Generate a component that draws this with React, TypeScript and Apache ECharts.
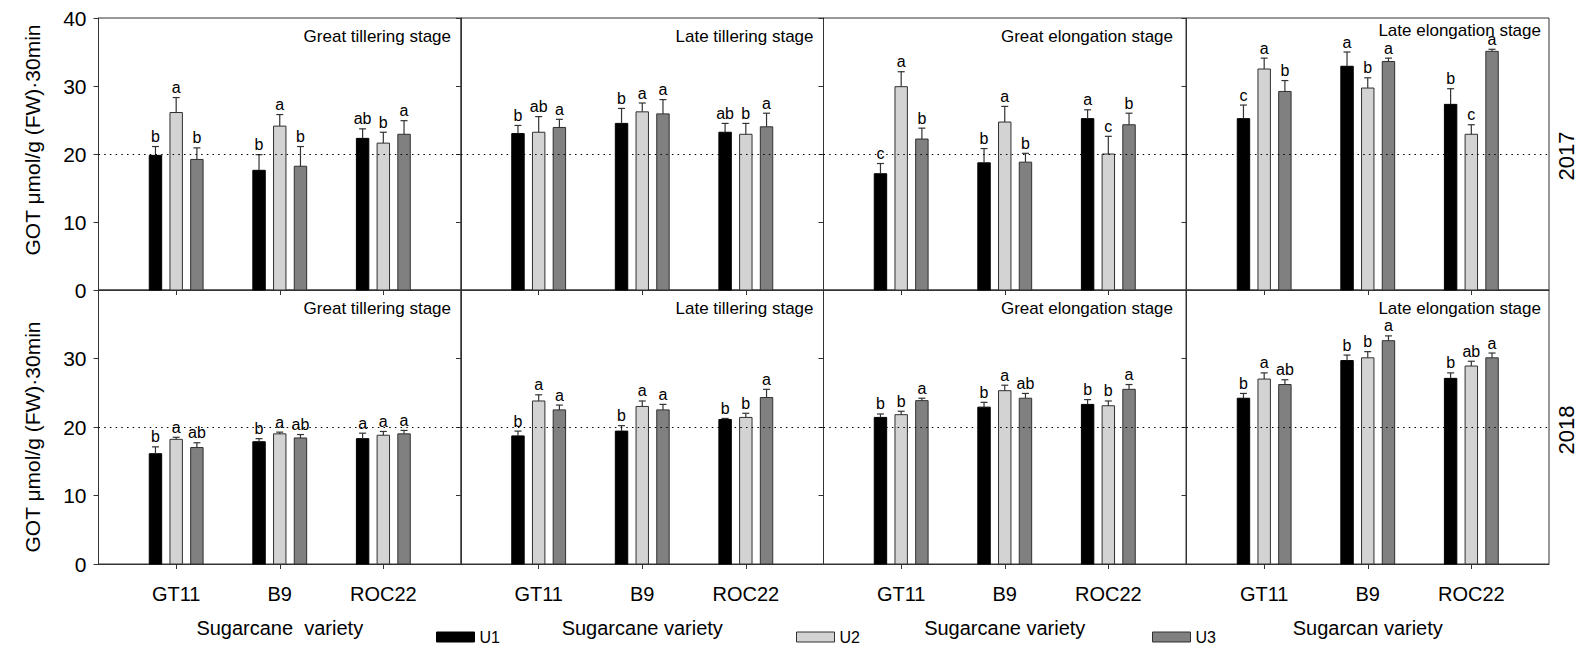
import React, { useEffect, useRef } from "react";
import * as echarts from "echarts";

// ---------- categories & labels ----------
const varieties = ["GT11", "B9", "ROC22"];
const treatments = ["U1", "U2", "U3"];
const stages = ["Great tillering stage", "Late tillering stage", "Great elongation stage", "Late elongation stage"];
const years = ["2017", "2018"];
const xAxisNames = ["Sugarcane  variety", "Sugarcane variety", "Sugarcane variety", "Sugarcan variety"];
const yAxisName = "GOT μmol/g (FW)·30min";

// ---------- data: rows = U1, U2, U3 ; columns = GT11, B9, ROC22 ----------
// 2017
const gts2017Mean = [[19.8, 17.6, 22.3], [26.1, 24.1, 21.6], [19.2, 18.2, 22.9]];
const gts2017Err = [[1.3, 2.3, 1.4], [2.2, 1.7, 1.6], [1.7, 2.9, 2.0]];
const gts2017Sig = [["b", "b", "ab"], ["a", "a", "b"], ["b", "b", "a"]];

const lts2017Mean = [[23.0, 24.5, 23.2], [23.2, 26.2, 22.9], [23.9, 25.9, 24.0]];
const lts2017Err = [[1.2, 2.2, 1.3], [2.3, 1.3, 1.6], [1.2, 2.1, 2.0]];
const lts2017Sig = [["b", "b", "ab"], ["ab", "a", "b"], ["a", "a", "a"]];

const ges2017Mean = [[17.1, 18.7, 25.2], [29.9, 24.7, 20.0], [22.2, 18.8, 24.3]];
const ges2017Err = [[1.5, 2.1, 1.3], [2.2, 2.3, 2.6], [1.6, 1.3, 1.7]];
const ges2017Sig = [["c", "b", "a"], ["a", "a", "c"], ["b", "b", "b"]];

const les2017Mean = [[25.2, 32.9, 27.3], [32.5, 29.7, 22.9], [29.2, 33.6, 35.1]];
const les2017Err = [[2.0, 2.1, 2.3], [1.6, 1.5, 1.4], [1.6, 0.5, 0.3]];
const les2017Sig = [["c", "a", "b"], ["a", "b", "c"], ["b", "a", "a"]];

// 2018
const gts2018Mean = [[16.1, 17.85, 18.3], [18.2, 19.0, 18.8], [17.0, 18.4, 19.0]];
const gts2018Err = [[1.0, 0.45, 0.8], [0.3, 0.25, 0.55], [0.7, 0.5, 0.5]];
const gts2018Sig = [["b", "b", "a"], ["a", "a", "a"], ["ab", "ab", "a"]];

const lts2018Mean = [[18.7, 19.4, 21.1], [23.8, 23.0, 21.4], [22.5, 22.5, 24.3]];
const lts2018Err = [[0.7, 0.8, 0.15], [0.9, 0.8, 0.6], [0.7, 0.8, 1.2]];
const lts2018Sig = [["b", "b", "b"], ["a", "a", "b"], ["a", "a", "a"]];

const ges2018Mean = [[21.4, 22.9, 23.3], [21.8, 25.3, 23.1], [23.85, 24.2, 25.5]];
const ges2018Err = [[0.5, 0.7, 0.7], [0.5, 0.8, 0.7], [0.35, 0.7, 0.7]];
const ges2018Sig = [["b", "b", "b"], ["b", "a", "b"], ["a", "ab", "a"]];

const les2018Mean = [[24.2, 29.7, 27.1], [27.0, 30.1, 28.9], [26.2, 32.6, 30.1]];
const les2018Err = [[0.7, 0.8, 0.8], [0.9, 0.9, 0.7], [0.7, 0.7, 0.7]];
const les2018Sig = [["b", "b", "b"], ["a", "b", "ab"], ["ab", "a", "a"]];

const refLine = 20;
const yMin = 0;
const yMax = 40;
const yInterval = 10;

const panelMeans = [gts2017Mean, lts2017Mean, ges2017Mean, les2017Mean, gts2018Mean, lts2018Mean, ges2018Mean, les2018Mean];
const panelErrs = [gts2017Err, lts2017Err, ges2017Err, les2017Err, gts2018Err, lts2018Err, ges2018Err, les2018Err];
const panelSigs = [gts2017Sig, lts2017Sig, ges2017Sig, les2017Sig, gts2018Sig, lts2018Sig, ges2018Sig, les2018Sig];

// ---------- styling / layout ----------
const FONT = "'Liberation Sans', Arial, Helvetica, sans-serif";
const fills = ["#000000", "#d3d3d3", "#808080"];
const strokes = ["#000000", "#303030", "#303030"];
const barOffsets = [-0.2, 0, 0.2];
const barWidth = 0.12;
const colLeft = [98.5, 461, 823.5, 1186.5];
const colWidth = 362.5;
const rowTop = [18, 290];
const rowHeight = [272, 274];
const AX = "#333333";

function makeRender(t: number, letters: string[]) {
  return (params: any, api: any) => {
    const xv = api.value(0) + barOffsets[t];
    const v = api.value(1);
    const e = api.value(2);
    const base = api.coord([xv, 0]);
    const top = api.coord([xv, v]);
    const et = api.coord([xv, v + e]);
    const w = api.size([barWidth, 0])[0];
    const cx = base[0];
    return {
      type: "group",
      children: [
        {
          type: "rect",
          shape: { x: cx - w / 2, y: top[1], width: w, height: base[1] - top[1] },
          style: { fill: fills[t], stroke: strokes[t], lineWidth: 1 },
        },
        {
          type: "line",
          shape: { x1: cx, y1: top[1], x2: cx, y2: et[1] },
          style: { stroke: "#333", lineWidth: 1.2 },
        },
        {
          type: "line",
          shape: { x1: cx - 3.5, y1: et[1], x2: cx + 3.5, y2: et[1] },
          style: { stroke: "#333", lineWidth: 1.2 },
        },
        {
          type: "text",
          x: cx,
          y: et[1] - 2,
          style: {
            text: letters[params.dataIndex],
            textAlign: "center",
            textVerticalAlign: "bottom",
            fontSize: 16,
            fontFamily: FONT,
            fill: "#000",
          },
        },
      ],
    };
  };
}

export default function App() {
  const ref = useRef<HTMLDivElement>(null);
  useEffect(() => {
    if (!ref.current) return;
    const chart = echarts.init(ref.current, null, { renderer: "svg" });

    const grids: any[] = [];
    const xAxes: any[] = [];
    const yAxes: any[] = [];
    const series: any[] = [];
    const graphics: any[] = [];

    for (let p = 0; p < 8; p++) {
      const row = Math.floor(p / 4);
      const col = p % 4;
      grids.push({
        left: colLeft[col],
        top: rowTop[row],
        width: colWidth,
        height: rowHeight[row],
        show: true,
        borderColor: AX,
        borderWidth: 1,
        backgroundColor: "transparent",
      });
      xAxes.push({
        type: "value",
        gridIndex: p,
        min: 0.25,
        max: 3.75,
        splitLine: { show: false },
        axisLine: { show: true, lineStyle: { color: AX, width: 1 } },
        axisTick: { show: true, length: 5, customValues: [1, 2, 3], lineStyle: { color: AX } },
        axisLabel: {
          show: row === 1,
          customValues: [1, 2, 3],
          formatter: (val: number) => varieties[Math.round(val) - 1] ?? "",
          fontSize: 20,
          fontFamily: FONT,
          color: "#000",
          margin: 20,
        },
        name: row === 1 ? xAxisNames[col] : "",
        nameLocation: "middle",
        nameGap: 54,
        nameTextStyle: { fontSize: 20, fontFamily: FONT, color: "#000" },
      });
      yAxes.push({
        type: "value",
        gridIndex: p,
        min: yMin,
        max: yMax,
        interval: yInterval,
        splitLine: { show: false },
        axisLine: { show: true, lineStyle: { color: AX, width: 1 } },
        axisTick: { show: true, length: 5, lineStyle: { color: AX } },
        axisLabel: {
          show: col === 0,
          showMaxLabel: row === 0,
          fontSize: 21,
          fontFamily: FONT,
          color: "#000",
          margin: 12,
        },
      });
      for (let t = 0; t < 3; t++) {
        const s: any = {
          type: "custom",
          name: treatments[t],
          xAxisIndex: p,
          yAxisIndex: p,
          z: 2,
          data: varieties.map((_, i) => [i + 1, panelMeans[p][t][i], panelErrs[p][t][i]]),
          itemStyle: { color: fills[t], borderColor: strokes[t], borderWidth: 1 },
          renderItem: makeRender(t, panelSigs[p][t]),
        };
        if (t === 0) {
          s.markLine = {
            silent: true,
            symbol: "none",
            z: 10,
            label: { show: false },
            lineStyle: { type: [1.5, 4.2], color: "#000", width: 1.2 },
            data: [{ yAxis: refLine }],
          };
        }
        series.push(s);
      }
      // panel title
      const titleRight = colLeft[col] + colWidth - (col === 3 ? 8 : col === 2 ? 13 : 10);
      const titleY = rowTop[row] + (row === 0 && col === 3 ? 12 : 18);
      graphics.push({
        type: "text",
        x: titleRight,
        y: titleY,
        style: {
          text: stages[col],
          textAlign: "right",
          textVerticalAlign: "middle",
          fontSize: 17,
          fontFamily: FONT,
          fill: "#000",
        },
      });
    }

    // y axis names and year labels
    const yNameY = [140, 437];
    const yearY = [156, 430];
    for (let r = 0; r < 2; r++) {
      graphics.push({
        type: "text",
        x: 32,
        y: yNameY[r],
        rotation: Math.PI / 2,
        style: {
          text: yAxisName,
          textAlign: "center",
          textVerticalAlign: "middle",
          fontSize: 21,
          fontFamily: FONT,
          fill: "#000",
        },
      });
      graphics.push({
        type: "text",
        x: 1566,
        y: yearY[r],
        rotation: Math.PI / 2,
        style: {
          text: years[r],
          textAlign: "center",
          textVerticalAlign: "middle",
          fontSize: 22,
          fontFamily: FONT,
          fill: "#000",
        },
      });
    }

    const legendLeft = [436, 796, 1152];
    const legends = treatments.map((n, i) => ({
      data: [{ name: n, itemStyle: { color: fills[i], borderColor: strokes[i], borderWidth: 1 } }],
      left: legendLeft[i],
      top: 629,
      icon: "rect",
      itemWidth: 38,
      itemHeight: 10,
      itemGap: 0,
      padding: 0,
      selectedMode: false,
      textStyle: { fontSize: 16, fontFamily: FONT, color: "#000", padding: [3, 0, 0, 0] },
    }));

    chart.setOption({
      animation: false,
      backgroundColor: "#ffffff",
      grid: grids,
      xAxis: xAxes,
      yAxis: yAxes,
      legend: legends,
      series,
      graphic: graphics,
    });
    return () => chart.dispose();
  }, []);

  return (
    <div
      ref={ref}
      style={{ position: "fixed", left: 0, top: 0, width: 1581, height: 654, background: "#fff" }}
    />
  );
}
